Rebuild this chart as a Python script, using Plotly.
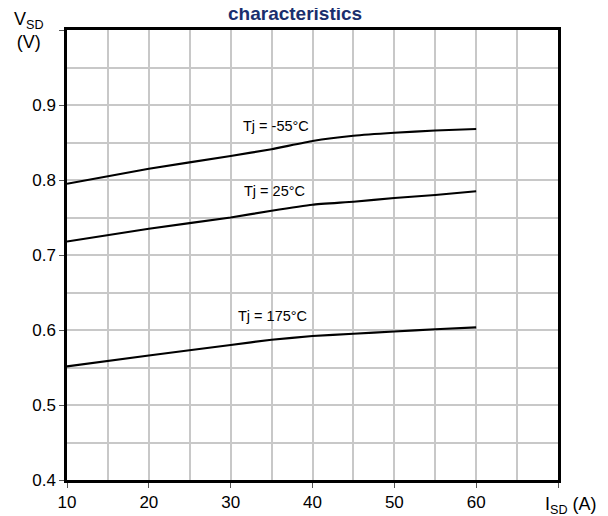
import plotly.graph_objects as go

# Data
isd = [10, 20, 30, 35, 40, 45, 50, 55, 60]
vsd_m55 = [0.795, 0.815, 0.832, 0.841, 0.852, 0.859, 0.863, 0.866, 0.868]
vsd_25 = [0.718, 0.735, 0.750, 0.759, 0.767, 0.771, 0.776, 0.780, 0.785]
vsd_175 = [0.5515, 0.566, 0.580, 0.587, 0.592, 0.595, 0.598, 0.601, 0.6035]
series_names = ["Tj = -55°C", "Tj = 25°C", "Tj = 175°C"]
label_pos = [(35.5, 0.872), (35.3, 0.786), (35.1, 0.619)]

x_ticks = [10, 20, 30, 40, 50, 60, 70]
x_ticktext = ["10", "20", "30", "40", "50", "60", ""]
y_ticks = [0.4, 0.5, 0.6, 0.7, 0.8, 0.9, 1.0]
y_ticktext = ["0.4", "0.5", "0.6", "0.7", "0.8", "0.9", ""]

FONT = "Liberation Sans, Arial, sans-serif"

fig = go.Figure()
for name, ys in zip(series_names, [vsd_m55, vsd_25, vsd_175]):
    fig.add_trace(go.Scatter(x=isd, y=ys, mode="lines", name=name,
                             line=dict(color="black", width=2.2, shape="spline", smoothing=0.4),
                             showlegend=False, hoverinfo="skip"))

for name, (lx, ly) in zip(series_names, label_pos):
    fig.add_annotation(x=lx, y=ly, text=name, showarrow=False,
                       font=dict(family=FONT, size=14.5, color="black"),
                       xanchor="center", yanchor="middle")

fig.add_annotation(xref="paper", yref="paper", x=0.464, y=1.0, yshift=4,
                   text="<b>characteristics</b>", showarrow=False,
                   font=dict(family=FONT, size=19, color="#1a2f6e"),
                   xanchor="center", yanchor="bottom")
fig.add_annotation(xref="paper", yref="paper", x=-0.077, y=1.0, yshift=0,
                   text="V<sub>SD</sub><br>(V)", showarrow=False,
                   font=dict(family=FONT, size=18, color="black"),
                   xanchor="center", yanchor="middle", align="center")
fig.add_annotation(xref="paper", yref="paper", x=1.0, xshift=13, y=0.0, yshift=-25,
                   text="I<sub>SD</sub> (A)", showarrow=False,
                   font=dict(family=FONT, size=18, color="black"),
                   xanchor="center", yanchor="middle")

fig.update_xaxes(range=[10, 70], tickvals=x_ticks, ticktext=x_ticktext,
                 showgrid=True, gridcolor="#c8c8c8", gridwidth=1.5,
                 minor=dict(tickvals=[15, 25, 35, 45, 55, 65], showgrid=True,
                            gridcolor="#c8c8c8", gridwidth=1.5),
                 showline=True, linecolor="black", linewidth=2.5, mirror=True,
                 ticks="outside", ticklen=5, tickcolor="#555", zeroline=False,
                 automargin=False,
                 tickfont=dict(family=FONT, size=17, color="black"))
fig.update_yaxes(range=[0.4, 1.0], tickvals=y_ticks, ticktext=y_ticktext,
                 showgrid=True, gridcolor="#c8c8c8", gridwidth=1.5,
                 minor=dict(tickvals=[0.45, 0.55, 0.65, 0.75, 0.85, 0.95], showgrid=True,
                            gridcolor="#c8c8c8", gridwidth=1.5),
                 showline=True, linecolor="black", linewidth=2.5, mirror=True,
                 ticks="outside", ticklen=5, tickcolor="#555", zeroline=False,
                 automargin=False,
                 tickfont=dict(family=FONT, size=17, color="black"))

# The page body has an 8px margin, so the figure is sized and offset to compensate
fig.update_layout(width=600, height=508,
                  margin=dict(l=59, r=50, t=22, b=36),
                  paper_bgcolor="white", plot_bgcolor="white",
                  font=dict(family=FONT))
fig.write_html("out.html")
